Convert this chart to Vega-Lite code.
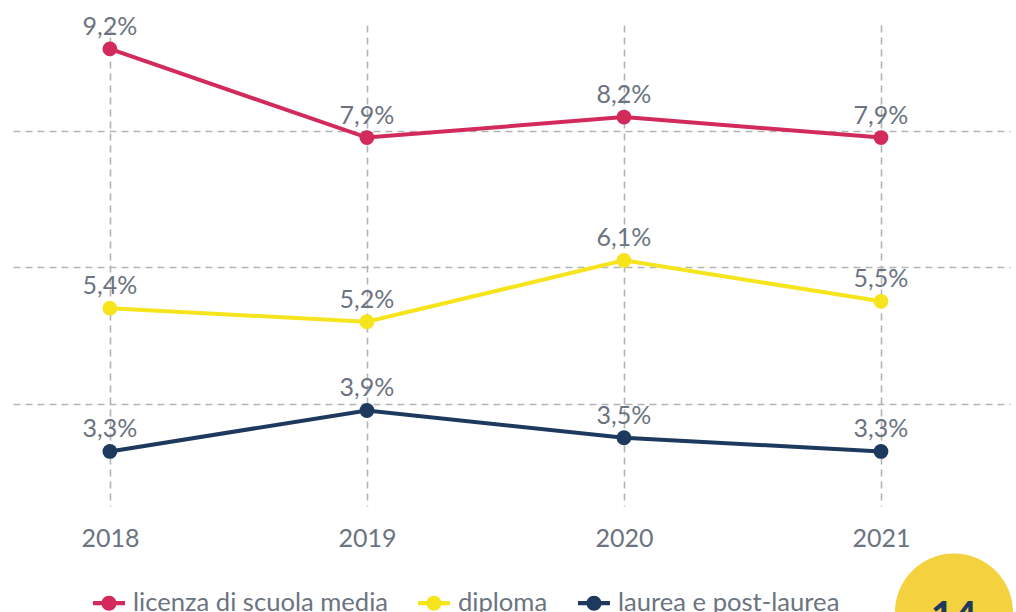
{
  "$schema": "https://vega.github.io/schema/vega-lite/v6.json",
  "width": 997,
  "height": 481,
  "padding": {"left": 13, "top": 14, "right": 0, "bottom": 0},
  "background": "white",
  "config": {
    "locale": {"number": {"decimal": ",", "thousands": ".", "grouping": [3], "currency": ["€", ""]}},
    "view": {"stroke": null},
    "font": "Lato",
    "text": {"font": "Lato"}
  },
  "datasets": {
    "serie": [
      {"anno": 2018, "titolo": "licenza di scuola media", "valore": 0.092},
      {"anno": 2019, "titolo": "licenza di scuola media", "valore": 0.079},
      {"anno": 2020, "titolo": "licenza di scuola media", "valore": 0.082},
      {"anno": 2021, "titolo": "licenza di scuola media", "valore": 0.079},
      {"anno": 2018, "titolo": "diploma", "valore": 0.054},
      {"anno": 2019, "titolo": "diploma", "valore": 0.052},
      {"anno": 2020, "titolo": "diploma", "valore": 0.061},
      {"anno": 2021, "titolo": "diploma", "valore": 0.055},
      {"anno": 2018, "titolo": "laurea e post-laurea", "valore": 0.033},
      {"anno": 2019, "titolo": "laurea e post-laurea", "valore": 0.039},
      {"anno": 2020, "titolo": "laurea e post-laurea", "valore": 0.035},
      {"anno": 2021, "titolo": "laurea e post-laurea", "valore": 0.033}
    ],
    "badge": [
      {"anno": 2021.284, "valore": 0.0094, "pagina": "14"}
    ]
  },
  "layer": [
    {
      "data": {"name": "serie"},
      "mark": {"type": "line", "strokeWidth": 4},
      "encoding": {
        "x": {
          "field": "anno", "type": "quantitative",
          "scale": {"domain": [2017.623, 2021.502], "nice": false, "zero": false},
          "axis": {
            "values": [2018, 2019, 2020, 2021], "format": "d", "title": null,
            "grid": true, "gridDash": [7, 5], "gridColor": "#b3b4b6", "gridWidth": 1.6,
            "domain": false, "ticks": false,
            "labelFontSize": 25, "labelColor": "#6b7480", "labelFont": "Lato",
            "labelPadding": 20, "labelFlush": false
          }
        },
        "y": {
          "field": "valore", "type": "quantitative",
          "scale": {"domain": [0.025, 0.0955], "nice": false, "zero": false},
          "axis": {
            "values": [0.04, 0.06, 0.08], "title": null, "labels": false,
            "grid": true, "gridDash": [7, 5], "gridColor": "#b3b4b6", "gridWidth": 1.6,
            "domain": false, "ticks": false
          }
        },
        "color": {
          "field": "titolo", "type": "nominal",
          "scale": {
            "domain": ["licenza di scuola media", "diploma", "laurea e post-laurea"],
            "range": ["#d12a5b", "#f6e41c", "#1d3a5e"]
          },
          "legend": {
            "title": null, "orient": "none", "direction": "horizontal",
            "legendX": 80, "legendY": 562,
            "symbolType": "M-1,-0.13H1V0.13H-1Z M0.47,0A0.47,0.47 0 1,1 -0.47,0A0.47,0.47 0 1,1 0.47,0Z",
            "symbolSize": 1024, "symbolStrokeWidth": 0, "symbolOpacity": 1,
            "labelFontSize": 25.6, "labelColor": "#6b7480", "labelFont": "Lato",
            "labelOffset": 8, "columnPadding": 30, "labelLimit": 400
          }
        }
      }
    },
    {
      "data": {"name": "serie"},
      "mark": {"type": "point", "filled": true, "size": 220, "opacity": 1},
      "encoding": {
        "x": {"field": "anno", "type": "quantitative"},
        "y": {"field": "valore", "type": "quantitative"},
        "color": {"field": "titolo", "type": "nominal"}
      }
    },
    {
      "data": {"name": "serie"},
      "mark": {"type": "text", "dy": -22, "fontSize": 25, "color": "#6b7480", "font": "Lato"},
      "encoding": {
        "x": {"field": "anno", "type": "quantitative"},
        "y": {"field": "valore", "type": "quantitative"},
        "text": {"field": "valore", "type": "quantitative", "format": ".1%"}
      }
    },
    {
      "data": {"name": "badge"},
      "mark": {"type": "point", "shape": "circle", "filled": true, "size": 13924, "color": "#f4d13e", "opacity": 1},
      "encoding": {
        "x": {"field": "anno", "type": "quantitative"},
        "y": {"field": "valore", "type": "quantitative"}
      }
    },
    {
      "data": {"name": "badge"},
      "mark": {"type": "text", "fontSize": 40, "fontWeight": "bold", "color": "#1d3a5e", "font": "Lato", "baseline": "middle", "dy": 6},
      "encoding": {
        "x": {"field": "anno", "type": "quantitative"},
        "y": {"field": "valore", "type": "quantitative"},
        "text": {"field": "pagina", "type": "nominal"}
      }
    }
  ]
}
